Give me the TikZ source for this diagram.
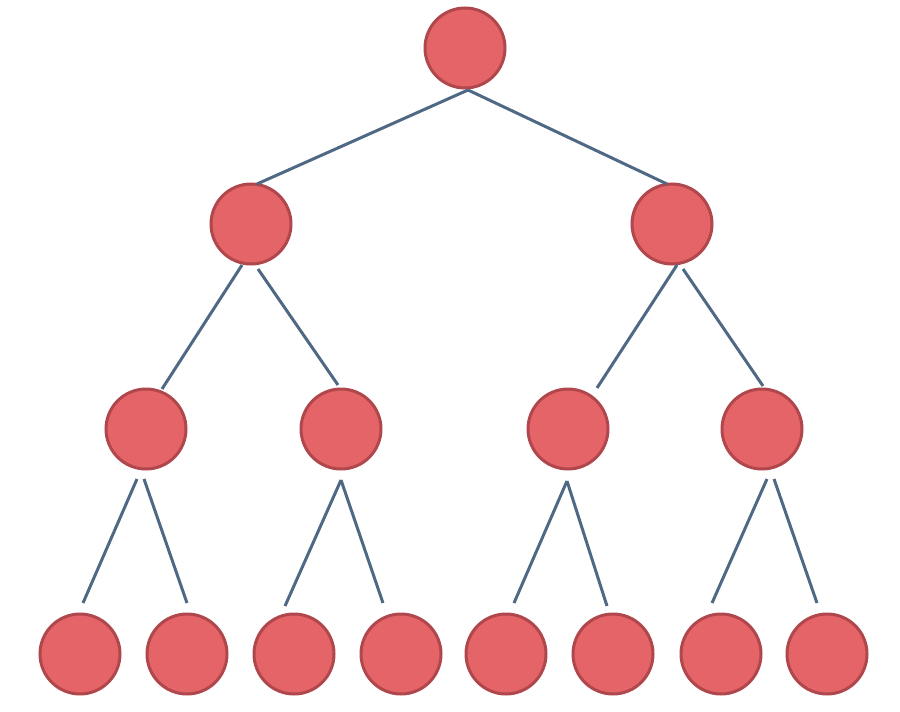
\documentclass[tikz,border=0pt]{standalone}
\usetikzlibrary{calc}

\definecolor{nodeFill}{HTML}{E46467}
\definecolor{nodeDraw}{HTML}{B0474C}
\definecolor{edgeColor}{HTML}{4F6985}

\begin{document}
\begin{tikzpicture}[x=1pt, y=-1pt,
    vertex/.style={draw=nodeDraw, circle, fill=nodeFill, line width=3pt, minimum size=80pt, inner sep=0pt},
    edge/.style={draw=edgeColor, line width=3pt}]

    \useasboundingbox (0,0) rectangle (900,712);

    %% ------
    %% Nodes sit on fixed pixel coordinates,
    %% the edges start and end with small offsets
    %% from the centres (adjusted by hand)
    %% ----

    % 1
    \node[vertex] (1) at (465, 48) {};

    % 2 - 3
    \node[vertex] (2) at (251, 224) {};
    \node[vertex] (3) at (672, 224) {};
    \draw[edge] ($(1)+(3,42)$) -- ($(2)+(6,-40)$);
    \draw[edge] ($(1)+(3,42)$) -- ($(3)+(-5,-40)$);

    % 4 - 5
    \node[vertex] (4) at (146, 429) {};
    \node[vertex] (5) at (341, 429) {};
    \draw[edge] ($(2)+(-9,41)$) -- ($(4)+(16,-40)$);
    \draw[edge] ($(2)+(7,45)$) -- ($(5)+(-3,-44)$);

    % 6 - 7
    \node[vertex] (6) at (568, 429) {};
    \node[vertex] (7) at (762, 429) {};
    \draw[edge] ($(3)+(5,41)$) -- ($(6)+(29,-41)$);
    \draw[edge] ($(3)+(11,45)$) -- ($(7)+(1,-43)$);

    % 8 - 9
    \node[vertex] (8) at (80, 654) {};
    \node[vertex] (9) at (187, 654) {};
    \draw[edge] ($(4)+(-9,50)$) -- ($(8)+(3,-51)$);
    \draw[edge] ($(4)+(-2,50)$) -- ($(9)+(0,-51)$);

    % 10 - 11
    \node[vertex] (10) at (294, 654) {};
    \node[vertex] (11) at (401, 654) {};
    \draw[edge] ($(5)+(0,51)$) -- ($(10)+(-9,-48)$);
    \draw[edge] ($(5)+(0,51)$) -- ($(11)+(-18,-51)$);

    % 12 - 13
    \node[vertex] (12) at (506, 654) {};
    \node[vertex] (13) at (613, 654) {};
    \draw[edge] ($(6)+(-1,52)$) -- ($(12)+(8,-51)$);
    \draw[edge] ($(6)+(-1,52)$) -- ($(13)+(-6,-48)$);

    % 14 - 15
    \node[vertex] (14) at (721, 654) {};
    \node[vertex] (15) at (827, 654) {};
    \draw[edge] ($(7)+(5,50)$) -- ($(14)+(-9,-51)$);
    \draw[edge] ($(7)+(12,50)$) -- ($(15)+(-10,-51)$);

\end{tikzpicture}
\end{document}
